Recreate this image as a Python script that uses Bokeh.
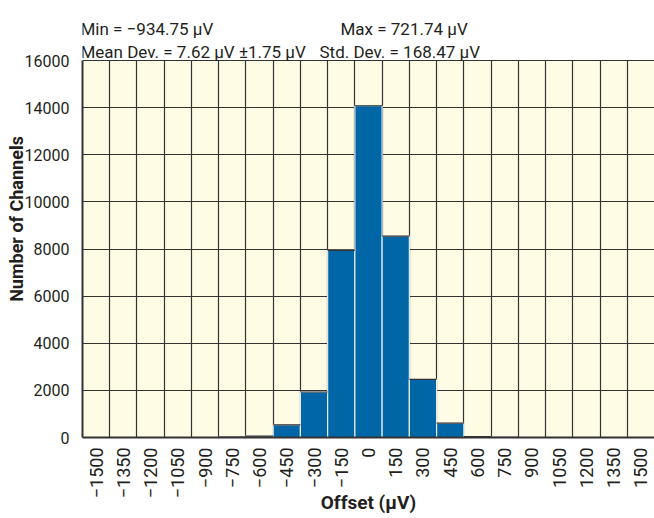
import math
from bokeh.plotting import figure
from bokeh.models import Range1d, FixedTicker, ColumnDataSource
from bokeh.core.properties import value
from bokeh.embed import file_html
from bokeh.resources import INLINE

# Data
bin_centers = [-1500, -1350, -1200, -1050, -900, -750, -600, -450, -300, -150,
               0, 150, 300, 450, 600, 750, 900, 1050, 1200, 1350, 1500]
counts = [0, 0, 0, 0, 0, 15, 60, 540, 1930, 7940,
          14080, 8550, 2470, 610, 40, 10, 0, 0, 0, 0, 0]
bin_width = 150
y_ticks = [0, 2000, 4000, 6000, 8000, 10000, 12000, 14000, 16000]
stats_left = ["Min = \u2212934.75 \u00b5V", "Mean Dev. = 7.62 \u00b5V \u00b11.75 \u00b5V"]
stats_right = ["Max = 721.74 \u00b5V", "Std. Dev. = 168.47 \u00b5V"]
x_title = "Offset (\u00b5V)"
y_title = "Number of Channels"

FONT = "Roboto"
TXT = "#231F20"

W, H = 654, 518
BOTTOM = 81          # px below frame
TOP_GAP = 60         # px between figure top and the 16000 line
y_max = 16000
frame_h = H - BOTTOM
px_per_unit = (frame_h - TOP_GAP) / y_max
y_top = frame_h / px_per_unit

x_lo = bin_centers[0] - bin_width / 2
x_hi = bin_centers[-1] + bin_width / 2
edges = [c - bin_width / 2 for c in bin_centers] + [x_hi]

p = figure(width=W, height=H, output_backend="svg", toolbar_location=None,
           x_range=Range1d(x_lo, x_hi), y_range=Range1d(0, y_top),
           min_border_left=82, min_border_top=0, min_border_bottom=BOTTOM,
           min_border_right=0)
p.border_fill_color = "white"
p.background_fill_color = "white"
p.outline_line_color = None

# cream plotting area (below the grid)
p.quad(left=[x_lo], right=[x_hi], bottom=[0], top=[y_max],
       fill_color="#FFFCE6", line_color=None, level="image")

src = ColumnDataSource(dict(x=bin_centers, top=counts,
                            left=[c - bin_width / 2 for c in bin_centers],
                            right=[c + bin_width / 2 for c in bin_centers]))
p.vbar(x="x", top="top", width=bin_width, source=src,
       fill_color="#0066A6", line_color="#E6EEF4", line_width=1.2)
p.segment(x0="left", x1="right", y0="top", y1="top", source=src,
          line_color="#333333", line_width=1.2)

# grids
p.xgrid.ticker = FixedTicker(ticks=edges)
p.xgrid.cross_bounds = (0, y_max)
p.xgrid.grid_line_color = "#333333"
p.xgrid.grid_line_width = 1.2
p.ygrid.ticker = FixedTicker(ticks=y_ticks)
p.ygrid.grid_line_color = "#333333"
p.ygrid.grid_line_width = 1.2

# axes
xa = p.xaxis[0]
xa.ticker = FixedTicker(ticks=bin_centers)
xa.major_label_overrides = {c: (str(c).replace("-", "\u2212")) for c in bin_centers}
xa.major_label_orientation = math.pi / 2
xa.major_tick_line_color = None
xa.minor_tick_line_color = None
xa.major_label_standoff = 4
xa.axis_line_color = "#333333"
xa.axis_line_width = 2
xa.major_label_text_font = FONT
xa.major_label_text_font_size = "18px"
xa.major_label_text_color = TXT
xa.axis_label = x_title
xa.axis_label_text_font = FONT
xa.axis_label_text_font_style = "bold"
xa.axis_label_text_font_size = "19px"
xa.axis_label_text_color = TXT
xa.axis_label_standoff = -10

ya = p.yaxis[0]
ya.ticker = FixedTicker(ticks=y_ticks)
ya.bounds = (0, y_max)
ya.major_tick_line_color = None
ya.minor_tick_line_color = None
ya.major_label_standoff = 7
ya.axis_line_color = "#333333"
ya.axis_line_width = 2
ya.major_label_text_font = FONT
ya.major_label_text_font_size = "16px"
ya.major_label_text_color = TXT
ya.axis_label = y_title
ya.axis_label_text_font = FONT
ya.axis_label_text_font_style = "bold"
ya.axis_label_text_font_size = "18px"
ya.axis_label_text_color = TXT
ya.axis_label_standoff = -5

# stats text above the grid
line_y = [y_max + 32 / px_per_unit, y_max + 9 / px_per_unit]
common = dict(text_font=value(FONT), text_font_size="17px", text_color=TXT,
              text_baseline="alphabetic", text_align="left")
p.text(x=[x_lo, x_lo], y=line_y, text=stats_left, x_offset=-2, **common)
p.text(x=[x_lo], y=line_y[:1], text=stats_right[:1], x_offset=258, **common)
p.text(x=[x_lo], y=line_y[1:], text=stats_right[1:], x_offset=237, **common)

open("out.html", "w").write(file_html(p, INLINE))
